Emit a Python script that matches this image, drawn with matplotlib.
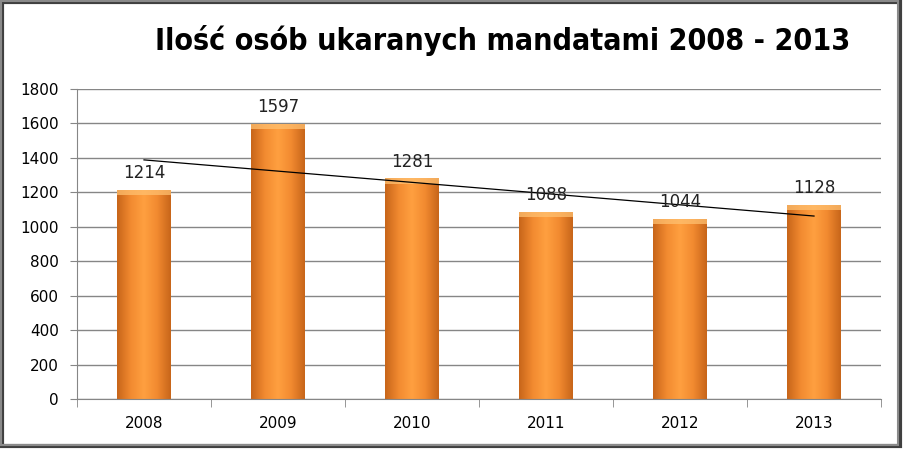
import matplotlib
matplotlib.use("Agg")
import matplotlib.pyplot as plt
import numpy as np
from matplotlib.patches import Rectangle
from matplotlib.colors import LinearSegmentedColormap

years = ["2008", "2009", "2010", "2011", "2012", "2013"]
values = [1214, 1597, 1281, 1088, 1044, 1128]
yticks = [0, 200, 400, 600, 800, 1000, 1200, 1400, 1600, 1800]
title = "Ilość osób ukaranych mandatami 2008 - 2013"

fig = plt.figure(figsize=(9.05, 4.51), dpi=100)
ax = fig.add_axes([77/905, 1-399/451, (881-77)/905, (399-89)/451])

x = np.arange(len(years))
bw = 0.4
bars = ax.bar(x, values, width=bw, color="#F7963C", edgecolor="none", zorder=2)

cmap = LinearSegmentedColormap.from_list("og", ["#C8661A", "#F28A30", "#FFA040", "#F28A30", "#C8661A"])
grad = np.linspace(0, 1, 64).reshape(1, -1)
for b in bars:
    x0, w, h = b.get_x(), b.get_width(), b.get_height()
    im = ax.imshow(grad, extent=[x0, x0 + w, 0, h], aspect="auto", cmap=cmap, zorder=2.1)
    im.set_clip_path(b)
    ax.add_patch(Rectangle((x0, h - 30), w, 30, facecolor="#FFC070", edgecolor="none", alpha=0.75, zorder=2.2))

coef = np.polyfit(x, values, 1)
ax.plot(x, np.polyval(coef, x), color="black", lw=0.9, zorder=3)

for xi, v in zip(x, values):
    ax.text(xi, v + 45, str(v), ha="center", va="bottom", fontsize=12, color="#222222", zorder=4)

ax.set_xlim(-0.5, len(years) - 0.5)
ax.set_ylim(0, 1800)
ax.set_yticks(yticks)
ax.set_yticklabels([str(t) for t in yticks], fontsize=11)
ax.set_xticks(x)
ax.set_xticklabels(years, fontsize=11)
ax.set_xticks(np.arange(-0.5, len(years)), minor=True)
ax.tick_params(axis="x", which="major", length=0, pad=12)
ax.tick_params(axis="x", which="minor", length=6, color="#868686", direction="out")
ax.tick_params(axis="y", length=5, color="#868686", direction="out", pad=8)
ax.yaxis.grid(True, color="#868686", lw=1)
ax.set_axisbelow(True)
for s in ["top", "right"]:
    ax.spines[s].set_visible(False)
for s in ["left", "bottom"]:
    ax.spines[s].set_color("#868686")

fig.text(503/905, 1-40/451, title, ha="center", va="center", fontsize=21.8, fontweight="bold",
         family="DejaVu Sans", fontstretch="condensed")

fig.patches.append(Rectangle((2/905, 5/451), 898/905, 444/451, transform=fig.transFigure,
                             facecolor="none", edgecolor="#404040", lw=3, zorder=0))
fig.patches.append(Rectangle((0.5/905, 6/451), 897/905, 444/451, transform=fig.transFigure,
                             facecolor="none", edgecolor="#8a8a8a", lw=1.5, zorder=1))

fig.savefig("out.png", dpi=100)
